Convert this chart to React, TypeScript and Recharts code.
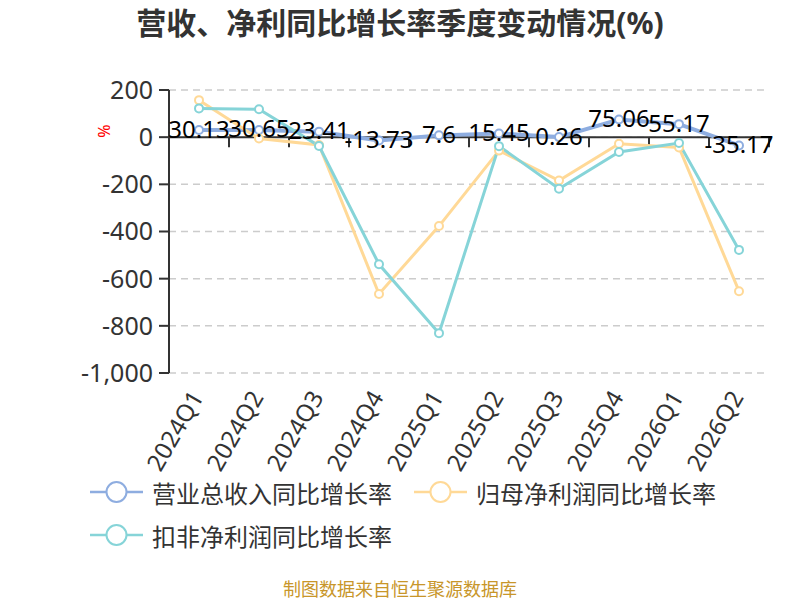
import React from 'react';
import {
  LineChart,
  Line,
  XAxis,
  YAxis,
  CartesianGrid,
  ReferenceLine,
  LabelList
} from 'recharts';

const quarters = ['2024Q1', '2024Q2', '2024Q3', '2024Q4', '2025Q1', '2025Q2', '2025Q3', '2025Q4', '2026Q1', '2026Q2'];
const revenueGrowth = [30.13, 30.65, 23.41, -13.73, 7.6, 15.45, 0.26, 75.06, 55.17, -35.17];
const netProfitGrowth = [157, -6, -33, -665, -377, -57, -184, -28, -44, -653];
const deductedProfitGrowth = [122, 118, -37, -539, -831, -38, -219, -63, -25, -478];
const yTicks = [200, 0, -200, -400, -600, -800, -1000];

const seriesKeys = ['revenue', 'netProfit', 'deducted'];
const seriesNames = ['营业总收入同比增长率', '归母净利润同比增长率', '扣非净利润同比增长率'];
const seriesColors = ['#8EADE0', '#FFD997', '#86D4D8'];

const FONT = '"Noto Sans", "Noto Sans CJK SC", sans-serif';

const data = quarters.map((q, i) => ({
  q,
  revenue: revenueGrowth[i],
  netProfit: netProfitGrowth[i],
  deducted: deductedProfitGrowth[i]
}));

// x tick labels, rotated like the original
const QuarterTick = (props: any) => {
  const { x, y, payload } = props;
  return (
    <g transform={`translate(${x - 2},${y + 12})`}>
      <text textAnchor="end" transform="rotate(-60)" dy="0.35em" fontSize={24} fill="#333" fontFamily={FONT}>
        {payload.value}
      </text>
    </g>
  );
};

// the x axis sits on zero, with ticks between the categories
const ZeroAxis = (props: any) => {
  const { x1, y1, x2 } = props;
  const left = Math.min(x1, x2);
  const right = Math.max(x1, x2);
  const step = (right - left) / quarters.length;
  return (
    <g>
      <line x1={left} y1={y1} x2={right} y2={y1} stroke="#333" strokeWidth={2} />
      {quarters.map((_, i) => (
        <line key={i} x1={left + step * (i + 1)} y1={y1} x2={left + step * (i + 1)} y2={y1 + 10} stroke="#333" strokeWidth={2} />
      ))}
    </g>
  );
};

const renderValueLabel = (props: any) => {
  const { x, y, value } = props;
  return (
    <text x={x} y={y - 2} textAnchor="middle" dominantBaseline="central" fontSize={24} fill="#000" fontFamily={FONT}>
      {value}
    </text>
  );
};

const App: React.FC = () => {
  return (
    <div style={{ position: 'absolute', left: 0, top: 0, width: 800, height: 600, background: '#fff', fontFamily: FONT }}>
      <div style={{ position: 'absolute', top: 5, left: 0, width: 800, textAlign: 'center', fontSize: 30, fontWeight: 'bold', lineHeight: '36px', color: '#333' }}>
        营收、净利同比增长率季度变动情况(%)
      </div>

      <div style={{ position: 'absolute', left: 0, top: 0 }}>
        <LineChart width={800} height={480} data={data} margin={{ top: 90, right: 31, bottom: 7, left: 0 }}>
          <CartesianGrid vertical={false} stroke="#ccc" strokeDasharray="7 5" strokeWidth={1.5} />
          <XAxis
            dataKey="q"
            axisLine={false}
            tickLine={false}
            interval={0}
            height={100}
            padding={{ left: 30, right: 30 }}
            tick={<QuarterTick />}
          />
          <YAxis
            type="number"
            domain={[-1000, 200]}
            ticks={yTicks}
            interval={0}
            width={169}
            allowDataOverflow
            axisLine={{ stroke: '#333', strokeWidth: 2 }}
            tickLine={{ stroke: '#333', strokeWidth: 2 }}
            tickSize={10}
            tickMargin={6}
            tick={{ fontSize: 25, fill: '#333', fontFamily: FONT }}
            tickFormatter={(v: number) => v.toLocaleString('en-US')}
          />
          <ReferenceLine y={0} shape={ZeroAxis} />
          {seriesKeys.map((key, i) => (
            <Line
              key={key}
              type="linear"
              dataKey={key}
              name={seriesNames[i]}
              stroke={seriesColors[i]}
              strokeWidth={i === 0 ? 4 : 3}
              dot={{ r: 4, fill: '#fff', stroke: seriesColors[i], strokeWidth: 2 }}
              activeDot={false}
              isAnimationActive={false}
            >
              {i === 0 && <LabelList dataKey={key} content={renderValueLabel} />}
            </Line>
          ))}
        </LineChart>
      </div>

      <div style={{ position: 'absolute', left: 97, top: 122, color: 'red', fontSize: 16, transform: 'rotate(-90deg)', lineHeight: '18px' }}>%</div>

      <div style={{ position: 'absolute', left: 90, top: 477, width: 700, display: 'flex', flexWrap: 'wrap', rowGap: 13 }}>
        {seriesNames.map((name, i) => (
          <div key={name} style={{ display: 'flex', alignItems: 'center', marginRight: 22, height: 30 }}>
            <svg width={53} height={24}>
              <line x1={0} y1={12} x2={53} y2={12} stroke={seriesColors[i]} strokeWidth={2.5} />
              <circle cx={26.5} cy={12} r={10} fill="#fff" stroke={seriesColors[i]} strokeWidth={2} />
            </svg>
            <span style={{ marginLeft: 9, fontSize: 24, color: '#333', fontFamily: '"Noto Sans CJK SC", sans-serif' }}>{name}</span>
          </div>
        ))}
      </div>

      <div style={{ position: 'absolute', top: 578, left: 0, width: 800, textAlign: 'center', fontSize: 18, lineHeight: '20px', color: '#C8962A', fontFamily: '"Noto Sans CJK SC", sans-serif' }}>
        制图数据来自恒生聚源数据库
      </div>
    </div>
  );
};

export default App;
